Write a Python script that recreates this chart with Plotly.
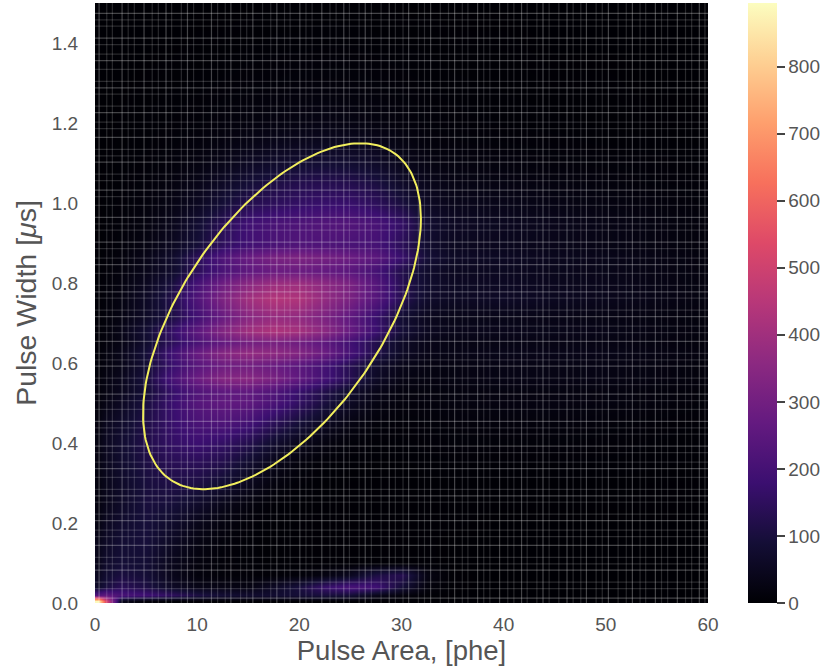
import numpy as np
import plotly.graph_objects as go

pulse_area = [0.3,1,2.5,5,7.5,10,12.5,15,17.5,20,22.5,25,27.5,30,32.5,35,40,45,50,55,60]
pulse_width = [0.005,0.02,0.04,0.07,0.1,0.15,0.2,0.25,0.3,0.35,0.4,0.45,0.5,0.53,0.56,0.595,0.625,0.65,0.68,0.715,0.76,0.80,0.83,0.865,0.895,0.95,1.0,1.05,1.1,1.15,1.2,1.3,1.4,1.5]
counts = [
 [890,560,40,10,5,3,2,2,2,2,2,2,2,2,1,1,1,1,1,1,1],
 [230,260,210,190,150,110,85,75,80,90,100,90,40,15,5,2,1,1,1,1,1],
 [70,100,140,110,60,35,30,25,60,100,170,210,190,90,15,3,1,1,1,1,1],
 [50,80,105,90,40,15,10,8,8,10,25,50,110,130,25,3,1,1,1,1,1],
 [40,70,90,85,40,18,8,5,4,3,3,3,3,3,3,2,1,1,1,1,1],
 [40,60,85,95,55,25,10,5,3,3,3,3,3,3,3,2,2,1,1,1,1],
 [25,50,75,95,70,38,18,8,4,3,3,3,3,3,3,3,2,2,2,2,2],
 [20,40,65,100,95,70,38,18,6,4,3,3,3,3,3,3,3,3,3,3,3],
 [20,40,65,100,115,110,80,45,18,7,4,3,3,3,4,4,4,4,4,3,3],
 [25,45,75,110,135,140,120,75,35,15,7,5,4,4,5,6,6,6,6,5,4],
 [25,50,80,120,160,180,160,125,75,40,20,10,6,6,8,10,10,10,8,6,5],
 [20,45,70,115,170,210,220,195,140,90,50,25,12,8,10,12,15,15,12,8,6],
 [15,30,55,105,175,235,260,255,210,155,100,55,25,15,15,18,22,22,20,15,10],
 [12,25,45,90,165,225,255,260,225,170,120,70,35,18,16,18,22,22,20,15,10],
 [12,25,45,100,205,285,340,350,315,260,195,130,60,28,22,24,30,30,28,22,15],
 [10,20,35,85,170,240,285,295,275,245,195,130,70,35,25,24,30,30,28,22,15],
 [10,20,40,95,190,280,345,375,365,340,285,205,120,60,35,32,38,36,34,28,20],
 [8,15,30,75,145,210,265,300,310,290,250,190,120,60,35,28,30,30,28,22,15],
 [8,15,35,85,165,255,340,400,430,410,355,275,180,90,50,40,40,38,34,26,18],
 [6,12,25,60,110,190,275,345,375,365,315,255,170,80,45,35,35,32,28,22,16],
 [5,12,25,60,120,225,325,400,440,430,370,315,235,130,70,55,60,50,42,32,22],
 [5,10,22,50,100,200,290,350,385,390,355,315,235,130,75,55,55,46,40,30,20],
 [4,8,18,38,70,140,210,255,280,280,265,245,200,120,70,50,50,42,36,28,18],
 [3,8,15,35,70,140,225,280,315,325,305,285,250,170,90,60,55,45,38,28,18],
 [3,6,12,25,50,90,150,190,210,225,220,210,200,140,75,50,45,38,30,22,14],
 [2,5,10,20,40,80,135,190,210,220,230,230,210,160,80,55,48,40,30,22,14],
 [2,4,8,15,28,50,90,125,145,160,170,170,145,100,55,40,36,28,22,16,10],
 [2,3,6,12,20,35,60,90,110,125,130,125,105,65,40,28,25,20,15,10,8],
 [1,3,5,8,14,22,35,55,70,80,85,80,65,40,25,20,16,12,10,8,6],
 [1,2,4,6,10,15,22,30,40,45,50,48,40,25,15,12,10,8,6,5,4],
 [1,2,3,5,7,10,14,18,22,25,28,25,20,15,10,8,6,5,4,3,3],
 [1,1,2,3,4,5,7,9,10,12,12,12,10,8,6,5,4,3,3,2,2],
 [1,1,1,2,2,3,3,4,5,5,6,6,5,4,4,3,3,2,2,2,1],
 [1,1,1,1,1,2,2,2,3,3,3,3,3,2,2,2,2,1,1,1,1],
]

magma = [[0,"#000004"],[0.1,"#140e36"],[0.2,"#3b0f70"],[0.3,"#641a80"],[0.4,"#8c2981"],
         [0.5,"#b73779"],[0.6,"#de4968"],[0.7,"#f7705c"],[0.8,"#fe9f6d"],[0.9,"#fecf92"],[1,"#fcfdbf"]]
cbar_ticks = [0,100,200,300,400,500,600,700,800]
x_ticks = [0,10,20,30,40,50,60]
y_ticks = [0.0,0.2,0.4,0.6,0.8,1.0,1.2,1.4]

ellipse_center = (18.3, 0.717)
ellipse_half_extent = (13.6, 0.4325)
ellipse_phase = 0.60

grid_x_steps = [0.75,0.55,0.95,0.6,0.6,0.95,0.8,0.6]
grid_y_steps = [0.024,0.016,0.03,0.016,0.016,0.03,0.022,0.016]
strong_every = 3

def seq(start, stop, steps):
    out, v, i = [], start, 0
    while v < stop:
        out.append(v)
        v += steps[i % len(steps)]
        i += 1
    return out

XMAX, YMAX = 60, 1.5
def lines(xs, ys):
    gx, gy = [], []
    for v in xs:
        gx += [v, v, None]; gy += [0, YMAX, None]
    for v in ys:
        gx += [0, XMAX, None]; gy += [v, v, None]
    return gx, gy

xs = seq(0.4, XMAX, grid_x_steps)
ys = seq(0.012, YMAX, grid_y_steps)
wx, wy = lines([v for i, v in enumerate(xs) if i % strong_every], [v for i, v in enumerate(ys) if i % strong_every])
sx, sy = lines(xs[::strong_every], ys[::strong_every])

t = np.linspace(0, 2*np.pi, 240)
ex = ellipse_center[0] + ellipse_half_extent[0]*np.cos(t)
ey = ellipse_center[1] + ellipse_half_extent[1]*np.sin(t + ellipse_phase)

fig = go.Figure()
fig.add_trace(go.Heatmap(
    x=pulse_area, y=pulse_width, z=counts, zmin=0, zmax=895, zsmooth="best",
    colorscale=magma, hoverinfo="skip",
    colorbar=dict(thickness=29, len=1, lenmode="fraction", x=1.065, xanchor="left", y=0, yanchor="bottom",
                  xpad=0, ypad=0, tickvals=cbar_ticks, ticks="outside", ticklen=8, tickwidth=1.5, tickcolor="#444",
                  outlinewidth=0, tickfont=dict(size=19, color="#555")),
))
fig.add_trace(go.Scatter(x=wx, y=wy, mode="lines", line=dict(color="rgba(255,255,255,0.16)", width=1.2),
                         hoverinfo="skip", showlegend=False))
fig.add_trace(go.Scatter(x=sx, y=sy, mode="lines", line=dict(color="rgba(255,255,255,0.27)", width=1.2),
                         hoverinfo="skip", showlegend=False))
fig.add_trace(go.Scatter(x=ex, y=ey, mode="lines", line=dict(color="#f2ee5e", width=2),
                         hoverinfo="skip", showlegend=False))
fig.update_layout(
    width=838, height=669, margin=dict(l=95, r=130, t=3, b=66),
    paper_bgcolor="white", plot_bgcolor="black", showlegend=False,
    font=dict(family="Liberation Sans, Arial, sans-serif", color="#555"),
    xaxis=dict(range=[0,XMAX], tickvals=x_ticks, showgrid=False, zeroline=False, ticks="outside", ticklen=4,
               tickcolor="rgba(0,0,0,0)", tickfont=dict(size=19),
               title=dict(text="Pulse Area, [phe]", font=dict(size=27.5), standoff=6)),
    yaxis=dict(range=[0,YMAX], tickvals=y_ticks, tickformat=".1f", showgrid=False, zeroline=False, ticks="outside", ticklen=12,
               tickcolor="rgba(0,0,0,0)", tickfont=dict(size=19),
               title=dict(text="Pulse Width [<i>μ</i>s]", font=dict(size=28.5), standoff=6)),
)
fig.write_html("out.html", config=dict(displayModeBar=False), post_script="document.body.style.margin='0';")
